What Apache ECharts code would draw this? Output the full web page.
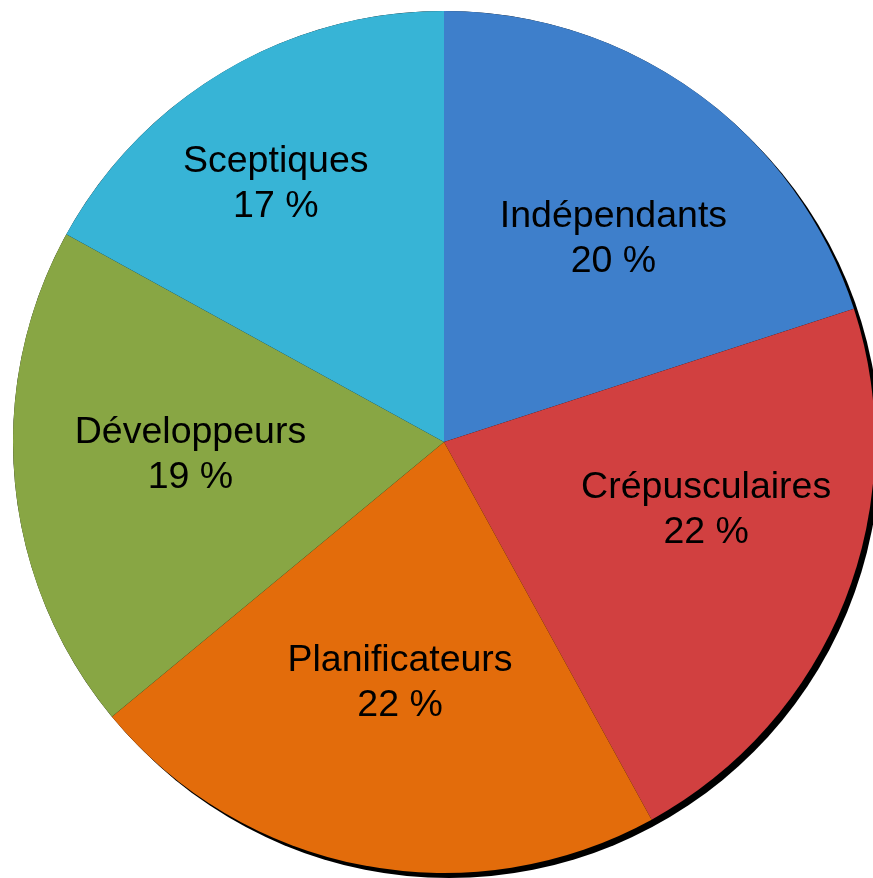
<!DOCTYPE html>
<html>
<head>
<meta charset="utf-8">
<script src="https://cdn.jsdelivr.net/npm/echarts@6/dist/echarts.min.js"></script>
<style>
html,body{margin:0;padding:0;background:#fff;}
#chart{width:873px;height:878px;}
</style>
</head>
<body>
<div id="chart"></div>
<script>
// Data
const categories = ['Indépendants', 'Crépusculaires', 'Planificateurs', 'Développeurs', 'Sceptiques'];
const values = [20, 22, 22, 19, 17];
// Styles
const colors = ['#3E7FCB', '#D14040', '#E36C0B', '#88A644', '#37B4D6'];
const labelShift = [[41, -26], [59, -12], [-3, 27], [-36, -7], [-57, -70]];

const chart = echarts.init(document.getElementById('chart'), null, {renderer: 'canvas'});
const center = [444, 442];
const radius = 431;

chart.setOption({
  animation: false,
  backgroundColor: '#ffffff',
  series: [
    {
      type: 'pie',
      silent: true,
      center: center,
      radius: radius,
      z: 1,
      label: {show: false},
      labelLine: {show: false},
      data: [{value: 1, itemStyle: {color: '#000', shadowColor: '#000', shadowBlur: 0, shadowOffsetX: 5, shadowOffsetY: 5}}]
    },
    {
      type: 'pie',
      center: center,
      radius: radius,
      startAngle: 90,
      clockwise: true,
      z: 2,
      itemStyle: {borderWidth: 0},
      label: {
        show: true,
        position: 'inside',
        fontFamily: '"Liberation Sans", Arial, sans-serif',
        fontSize: 37.5,
        lineHeight: 45,
        color: '#000',
        formatter: function (p) { return p.name + '\n' + p.value + ' %'; }
      },
      labelLayout: function (p) {
        const s = labelShift[p.dataIndex];
        return {dx: s[0], dy: s[1]};
      },
      labelLine: {show: false},
      data: categories.map(function (c, i) {
        return {name: c, value: values[i], itemStyle: {color: colors[i]}};
      })
    }
  ]
});
</script>
</body>
</html>
